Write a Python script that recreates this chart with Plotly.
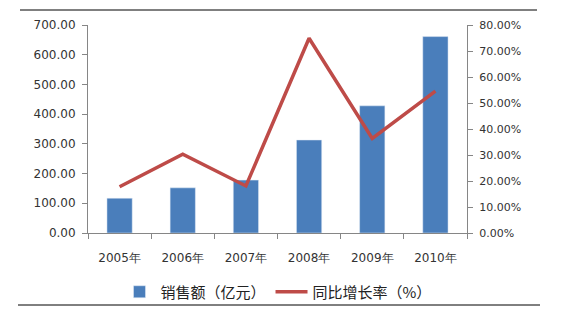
import plotly.graph_objects as go

years = ["2005年", "2006年", "2007年", "2008年", "2009年", "2010年"]
sales = [117, 152, 178, 313, 428, 661]
growth = [0.178, 0.303, 0.181, 0.749, 0.364, 0.546]
sales_name = "销售额（亿元）"
growth_name = "同比增长率（%）"

W, H = 563, 320
L, R, T, B = 88, 96, 25, 87
pw, ph = W - L - R, H - T - B

def px(x):
    return (x - L) / pw

def py(y):
    return (H - B - y) / ph

fig = go.Figure()
fig.add_trace(go.Bar(x=years, y=sales, name=sales_name, marker_color="#4a7ebb",
                     width=0.4, yaxis="y"))
fig.add_trace(go.Scatter(x=years, y=growth, name=growth_name, mode="lines",
                         line=dict(color="#be4b48", width=3.5), yaxis="y2"))

font = dict(family="DejaVu Sans", size=11, color="#333333")
fig.update_layout(
    width=W, height=H,
    margin=dict(l=L, r=R, t=T, b=B),
    paper_bgcolor="white", plot_bgcolor="white",
    font=font,
    showlegend=True,
    bargap=0.6,
    legend=dict(orientation="h", x=0.5, xanchor="center", y=py(292), yanchor="middle",
                bgcolor="rgba(0,0,0,0)",
                font=dict(family="Noto Sans CJK SC", size=15, color="#222222"),
                itemwidth=32, tracegroupgap=0),
    xaxis=dict(type="category", showline=True, linecolor="#868686", linewidth=1,
               ticks="outside", tickson="boundaries", ticklen=5, tickcolor="#868686",
               showgrid=False, tickfont=dict(family="DejaVu Sans", size=12, color="#333333"),
               ticklabelstandoff=14),
    yaxis=dict(range=[0, 700], dtick=100, tickformat=".2f", showline=True,
               linecolor="#868686", ticks="outside", ticklen=5, tickcolor="#868686",
               showgrid=False, zeroline=False, ticklabelstandoff=4,
               tickfont=dict(size=12)),
    yaxis2=dict(range=[0, 0.8], dtick=0.1, tickformat=".2%", overlaying="y", side="right",
                showline=True, linecolor="#868686", ticks="outside", ticklen=5,
                tickcolor="#868686", showgrid=False, zeroline=False, ticklabelstandoff=4,
                tickfont=dict(size=11)),
    shapes=[
        dict(type="line", xref="paper", yref="paper", x0=px(20), x1=px(537),
             y0=py(10), y1=py(10), line=dict(color="black", width=1)),
        dict(type="line", xref="paper", yref="paper", x0=px(18), x1=px(540),
             y0=py(305), y1=py(305), line=dict(color="black", width=1)),
    ],
)

fig.write_html("out.html")
